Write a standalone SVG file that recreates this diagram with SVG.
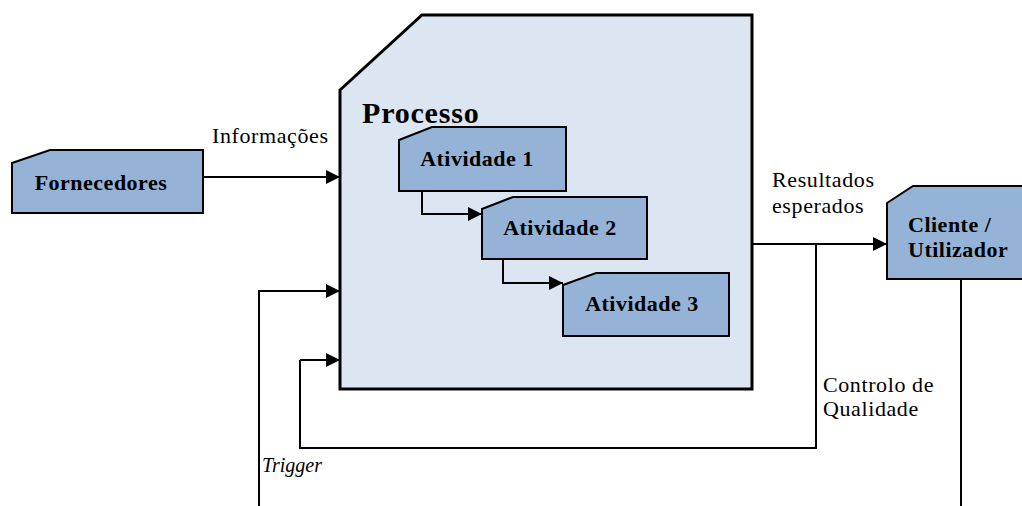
<svg xmlns="http://www.w3.org/2000/svg" width="1022" height="506" viewBox="0 0 1022 506">
<defs>
<marker id="arr" markerUnits="userSpaceOnUse" markerWidth="16" markerHeight="16" viewBox="0 0 16 16" refX="15" refY="8" orient="auto">
<path d="M1,1 L15,8 L1,15 Z" fill="#000"/>
</marker>
<style>
.node{fill:#95b3d7;stroke:#000;stroke-width:2}
.proc{fill:#dce6f2;stroke:#000;stroke-width:3}
.lbl{font-family:"Liberation Serif",serif;font-weight:bold;font-size:22px;letter-spacing:0.5px;fill:#000}
.txt{font-family:"Liberation Serif",serif;font-size:22px;letter-spacing:0.6px;fill:#000}
.conn{fill:none;stroke:#000;stroke-width:2}
.arr{marker-end:url(#arr)}
</style>
</defs>
<rect width="1022" height="506" fill="#fff"/>
<g id="processo">
<polygon class="proc" points="340,90 422,15 752,15 752,389 340,389"/>
<text class="lbl" x="362" y="123" style="font-size:30px;letter-spacing:0.8px">Processo</text>
</g>
<g id="fornecedores">
<polygon class="node" points="12,163 50,150 203,150 203,213 12,213"/>
<text class="lbl" x="101" y="190" text-anchor="middle">Fornecedores</text>
</g>
<g id="atividade1">
<polygon class="node" points="399,140 432,127 566,127 566,191 399,191"/>
<text class="lbl" x="477" y="166" text-anchor="middle">Atividade 1</text>
</g>
<g id="atividade2">
<polygon class="node" points="482,209 513,197 647,197 647,259 482,259"/>
<text class="lbl" x="560" y="235" text-anchor="middle">Atividade 2</text>
</g>
<g id="atividade3">
<polygon class="node" points="563,285 596,273 729,273 729,336 563,336"/>
<text class="lbl" x="642" y="311" text-anchor="middle">Atividade 3</text>
</g>
<g id="cliente">
<polygon class="node" points="887,203 913,186 1030,186 1030,279 887,279"/>
<text class="lbl" x="908" y="232">Cliente /</text>
<text class="lbl" x="908" y="257">Utilizador</text>
</g>
<g id="connectors">
<path class="conn arr" d="M203,177 L340,177"/>
<path class="conn arr" d="M422,191 L422,214 L482,214"/>
<path class="conn arr" d="M503,259 L503,283 L563,283"/>
<path class="conn arr" d="M752,244 L887,244"/>
<path class="conn" d="M816,244 L816,448 L300,448 L300,360"/>
<path class="conn arr" d="M300,360 L340,360"/>
<path class="conn arr" d="M259,506 L259,291 L340,291"/>
<path class="conn" d="M961,279 L961,506"/>
</g>
<g id="labels">
<text class="txt" x="212" y="143">Informações</text>
<text class="txt" x="772" y="187">Resultados</text>
<text class="txt" x="772" y="213">esperados</text>
<text class="txt" x="823" y="392">Controlo de</text>
<text class="txt" x="823" y="416">Qualidade</text>
<text class="txt" x="262" y="472" style="font-style:italic;font-size:20px;letter-spacing:0">Trigger</text>
</g>
</svg>
